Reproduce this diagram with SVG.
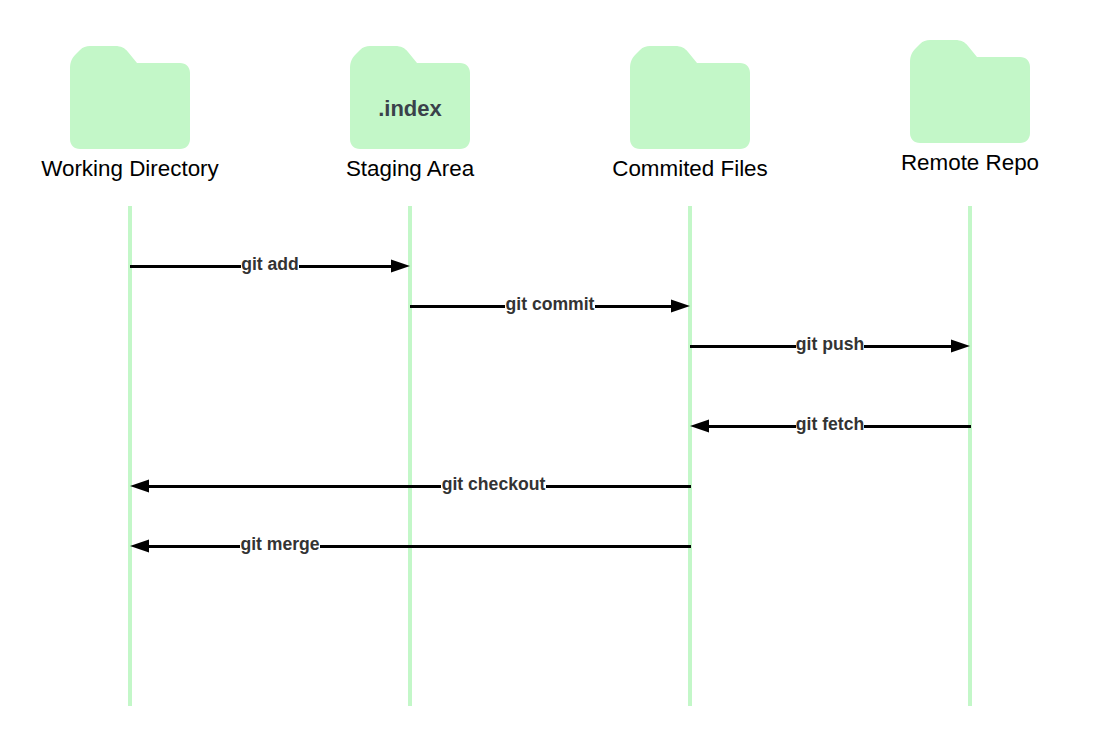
<svg xmlns="http://www.w3.org/2000/svg" width="1100" height="746" viewBox="0 0 1100 746">
<style>
.folder{fill:#c3f7c8}
.life{stroke:#c3f7c8;stroke-width:4;fill:none}
.title{font:22.4px "Liberation Sans",Arial,sans-serif;fill:#000;text-anchor:middle}
.idx{font:bold 22px "Liberation Sans",Arial,sans-serif;fill:#3a414a;text-anchor:middle}
.lab{font:bold 17.6px "Liberation Sans",Arial,sans-serif;fill:#333;text-anchor:middle}
.bg{fill:#fff}
.msg{stroke:#000;stroke-width:3;fill:none}
.head{fill:#000}
</style>
<defs>
<path id="f" class="folder" d="M20 0H45C51 0 55 2 58 6L67 17H110C116 17 120 21 120 27V93C120 99 116 103 110 103H10C4 103 0 99 0 93V22C0 16 2 12 6 8L10 4C13 1 16 0 20 0Z"/>
</defs>
<rect width="1100" height="746" fill="#fff"/>
<g id="node-working"><use href="#f" x="70" y="46"/><text class="title" x="130" y="175.500">Working Directory</text><path class="life" d="M130 206V706"/></g>
<g id="node-staging"><use href="#f" x="350" y="46"/><text class="idx" x="410" y="115.500">.index</text><text class="title" x="410" y="175.500">Staging Area</text><path class="life" d="M410 206V706"/></g>
<g id="node-commited"><use href="#f" x="630" y="46"/><text class="title" x="690" y="175.500">Commited Files</text><path class="life" d="M690 206V706"/></g>
<g id="node-remote"><use href="#f" x="910" y="40"/><text class="title" x="970" y="169.500">Remote Repo</text><path class="life" d="M970 206V706"/></g>
<g id="connectors">
<path class="msg" d="M130 266.500H392"/><path class="head" d="M410 266L391 259.500V272.500Z"/>
<rect class="bg" x="241" y="255" width="58" height="18"/><text class="lab" x="270" y="269.500">git add</text>
<path class="msg" d="M410 306.500H672"/><path class="head" d="M690 306L671 299.500V312.500Z"/>
<rect class="bg" x="505" y="295" width="90" height="18"/><text class="lab" x="550" y="309.500">git commit</text>
<path class="msg" d="M690 346.500H952"/><path class="head" d="M970 346L951 339.500V352.500Z"/>
<rect class="bg" x="796" y="335" width="68" height="18"/><text class="lab" x="830" y="349.500">git push</text>
<path class="msg" d="M971 426.500H708"/><path class="head" d="M690 426L709 419.500V432.500Z"/>
<rect class="bg" x="796" y="415" width="68" height="18"/><text class="lab" x="830" y="429.500">git fetch</text>
<path class="msg" d="M691 486.500H148"/><path class="head" d="M130 486L149 479.500V492.500Z"/>
<rect class="bg" x="441" y="475" width="105" height="18"/><text class="lab" x="493.500" y="489.500">git checkout</text>
<path class="msg" d="M691 546.500H148"/><path class="head" d="M130 546L149 539.500V552.500Z"/>
<rect class="bg" x="240" y="535" width="80" height="18"/><text class="lab" x="280" y="549.500">git merge</text>
</g>
</svg>
